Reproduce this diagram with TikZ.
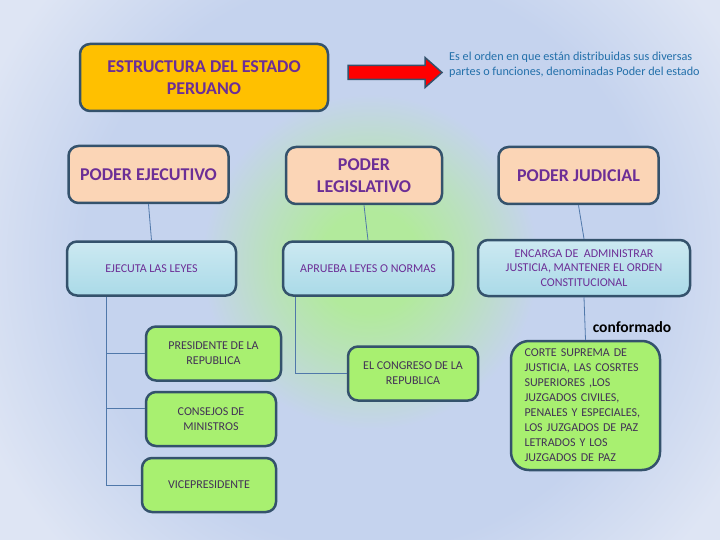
\documentclass[tikz,border=0pt]{standalone}
\usepackage{fontspec}
\setmainfont{Carlito}
\usepackage{tikz}
\usetikzlibrary{positioning}
\usepackage{xcolor}
\definecolor{fondo}{RGB}{222,229,244}
\definecolor{fondoint}{RGB}{197,211,238}
\definecolor{verdeluz}{RGB}{178,234,156}
\definecolor{borde}{RGB}{52,82,108}
\definecolor{naranja}{RGB}{255,192,0}
\definecolor{durazno}{RGB}{251,213,182}
\definecolor{celeste}{RGB}{170,218,232}
\definecolor{verde}{RGB}{168,240,112}
\definecolor{morado}{RGB}{108,46,150}
\definecolor{moradogris}{RGB}{66,50,86}
\definecolor{azultexto}{RGB}{35,112,170}
\definecolor{linea}{RGB}{80,120,170}
\pgfdeclareradialshading{brillo}{\pgfpoint{0bp}{0bp}}{color(0bp)=(verdeluz); color(3bp)=(verdeluz); color(6bp)=(verdeluz!60!fondoint); color(10bp)=(fondoint); color(17bp)=(fondoint); color(25bp)=(fondo); color(50bp)=(fondo)}

\begin{document}
\begin{tikzpicture}[x=1pt, y=-1pt,
  caja/.style = {draw=borde, line width=2.5pt, rounded corners=10pt, align=center, inner sep=3pt},
  poder/.style = {caja, fill=durazno, minimum width=160pt, minimum height=57pt, text=morado, font=\fontsize{18}{22}\selectfont\bfseries},
  funcion/.style = {caja, top color=celeste!60!white, bottom color=celeste, minimum height=54pt, text=morado, font=\fontsize{12}{14.6}\selectfont},
  organo/.style = {caja, fill=verde, minimum height=54pt, text=moradogris, font=\fontsize{12}{15}\selectfont},
  rama/.style = {draw=linea, line width=0.8pt}]
\useasboundingbox (0,0) rectangle (720,540);
\fill[fondo] (0,0) rectangle (720,540);
\begin{scope}
\clip (0,0) rectangle (720,540);
\shade[shading=brillo] (370,262) circle [radius=420pt];
\end{scope}

\node[poder, fill=naranja, minimum width=248pt, minimum height=67pt] (estructura) at (204,77.5) {ESTRUCTURA DEL ESTADO\\PERUANO};
\coordinate (flecha) at (348,72.5);
\draw[borde, line width=1.5pt, fill=red, line join=miter] (flecha) ++(0,-7) -- ++(77,0) -- ++(0,-8) -- ++(17,15) -- ++(-17,15) -- ++(0,-8) -- ++(-77,0) -- cycle;
\node[font=\fontsize{12.2}{14.5}\selectfont, text=azultexto, align=left, anchor=west, inner sep=0pt] (orden) at (449,65) {Es el orden en que están distribuidas sus diversas\\partes o funciones, denominadas Poder del estado};

\node[poder] (pe) at (148.5,174.5) {PODER EJECUTIVO};
\node[poder, minimum width=156pt] (pl) at (364,175.5) {PODER\\LEGISLATIVO};
\node[poder] (pj) at (578.5,175.5) {PODER JUDICIAL};

\node[funcion, minimum width=169pt] (ejec) at (151.5,268.5) {EJECUTA LAS LEYES};
\node[funcion, minimum width=170pt] (aprueba) at (368,268.5) {APRUEBA LEYES O NORMAS};
\node[funcion, minimum width=212pt, minimum height=56pt] (encarga) at (584,268) {ENCARGA DE~ ADMINISTRAR\\JUSTICIA, MANTENER EL ORDEN\\CONSTITUCIONAL};

\node[organo, minimum width=135pt] (pres) at (213.5,353.5) {PRESIDENTE DE LA\\REPUBLICA};
\node[organo, minimum width=130pt] (cons) at (211,419) {CONSEJOS DE\\MINISTROS};
\node[organo, minimum width=134pt] (vice) at (209,485) {VICEPRESIDENTE};
\node[organo, minimum width=130pt] (congreso) at (413,373.5) {EL CONGRESO DE LA\\REPUBLICA};
\node[organo, rounded corners=18pt, minimum width=149pt, minimum height=129pt, text width=122pt, align=left] (corte) at (585.5,405.5) {CORTE SUPREMA DE\\JUSTICIA, LAS COSRTES\\SUPERIORES ,LOS\\JUZGADOS CIVILES,\\PENALES Y ESPECIALES,\\LOS JUZGADOS DE PAZ\\LETRADOS Y LOS\\JUZGADOS DE PAZ};
\node[font=\fontsize{15.5}{18}\selectfont\bfseries] (conf) at (632,327) {conformado};

\draw[rama] (pe.south) -- (ejec.north);
\draw[rama] (pl.south) -- (aprueba.north);
\draw[rama] (pj.south) -- (encarga.north);
\coordinate (bajaE) at ([xshift=41pt]ejec.south west);
\draw[rama] (bajaE) |- (pres.west);
\draw[rama] (bajaE) |- ([yshift=11pt]cons.west);
\draw[rama] (bajaE) |- (vice.west);
\coordinate (bajaL) at ([xshift=14pt]aprueba.south west);
\draw[rama] (bajaL) |- (congreso.west);
\draw[rama] (encarga.south) -- (corte.north);
\end{tikzpicture}
\end{document}
